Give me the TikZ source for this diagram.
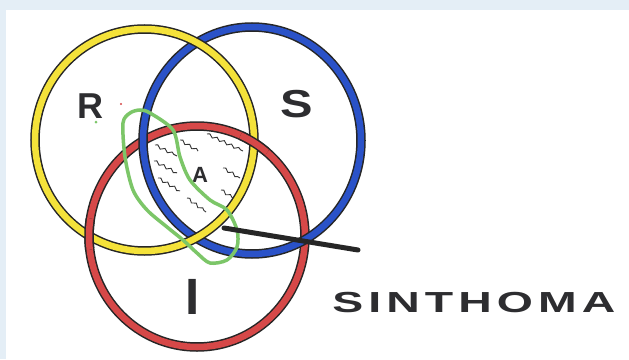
\documentclass[tikz,border=0pt]{standalone}
\usepackage{fontspec}
\setmainfont{Liberation Sans}
\usepackage{xcolor}
\usepackage{tikz}
\usetikzlibrary{decorations.pathmorphing, positioning}
\definecolor{ringyellow}{RGB}{244, 226, 58}
\definecolor{ringblue}{RGB}{42, 82, 200}
\definecolor{ringred}{RGB}{214, 72, 72}
\definecolor{markgreen}{RGB}{124, 198, 104}
\definecolor{panelblue}{RGB}{228, 238, 246}
\definecolor{inkgray}{RGB}{45, 45, 48}
\tikzstyle{ringedge} = [black!85, line width=9.5pt]
\tikzstyle{letter} = [text=inkgray, inner sep=0pt, font=\bfseries]
\tikzstyle{wave} = [decorate, decoration={snake, amplitude=1.4pt, segment length=8pt}, line width=0.9pt, black!80]

% one ring: colour, centre, x radius, y radius
\newcommand{\ringdraw}[4]{%
  \draw[ringedge] (#2) ellipse [x radius=#3pt, y radius=#4pt];
  \draw[#1, line width=6.5pt] (#2) ellipse [x radius=#3pt, y radius=#4pt];
}

\begin{document}
\begin{tikzpicture}[x=1pt, y=-1pt]
    \useasboundingbox (0,0) rectangle (629,359);
    % Background and panel
    \fill[panelblue] (0,0) rectangle (629,359);
    \fill[white] (6,10) rectangle (629,359);

    % Ring centres
    \coordinate (cR) at (144.5,140);
    \coordinate (cS) at (252,140.5);
    \coordinate (cI) at (197,236.5);

    % Rings: red under blue, blue under yellow
    \ringdraw{ringred}{cI}{108}{110.5}
    \ringdraw{ringblue}{cS}{109}{113.5}
    \ringdraw{ringyellow}{cR}{109.5}{111}
    % Red over yellow at both crossings
    \foreach \cx/\cy in {255/142, 87/234} {
        \begin{scope}
            \clip (\cx,\cy) circle [radius=16pt];
            \ringdraw{ringred}{cI}{108}{110.5}
        \end{scope}
    }

    % Hatching
    \foreach \xa/\ya/\xb/\yb in {155/145/177/156, 180/140/198/151, 207/134/243/151, 154/161/177/173,
                                 158/178/180/191, 223/168/240/178, 187/198/206/212, 221/190/233/198} {
        \draw[wave] (\xa,\ya) -- (\xb,\yb);
    }

    % Labels
    \node[letter, font=\bfseries\fontsize{36}{36}\selectfont] (labelR) at (90,106) {R};
    \node[letter, font=\bfseries\fontsize{39}{39}\selectfont, xscale=1.25] (labelS) at (297,104) {S};
    \node[letter, font=\bfseries\fontsize{51}{51}\selectfont] (labelI) at (193,297) {I};
    \node[letter, font=\bfseries\fontsize{22}{22}\selectfont] (labelA) at (200,175) {A};
    \fill[ringred] (121,104) circle [radius=1.2pt];
    \fill[markgreen] (96,122) circle [radius=1.5pt];

    % Green loop
    \draw[markgreen, line width=3.5pt] plot[smooth cycle] coordinates {
        (123,123) (130,113) (140,110) (150,113) (173,130) (180,157) (190,180) (210,200)
        (227,210) (237,230) (237,247) (227,260) (210,263) (197,253) (183,240) (167,227)
        (147,210) (133,190) (125,157)};

    % Pointer to the name
    \coordinate (lineStart) at (224,228);
    \coordinate (lineEnd) at (358,250);
    \draw[black!85, line width=5pt, line cap=round] (lineStart) -- (lineEnd);

    \node[letter, anchor=west, font=\bfseries\fontsize{29}{29}\selectfont\addfontfeature{LetterSpace=11}, xscale=1.6] (sinthoma) at (332,302.5) {SINTHOMA};
\end{tikzpicture}
\end{document}
